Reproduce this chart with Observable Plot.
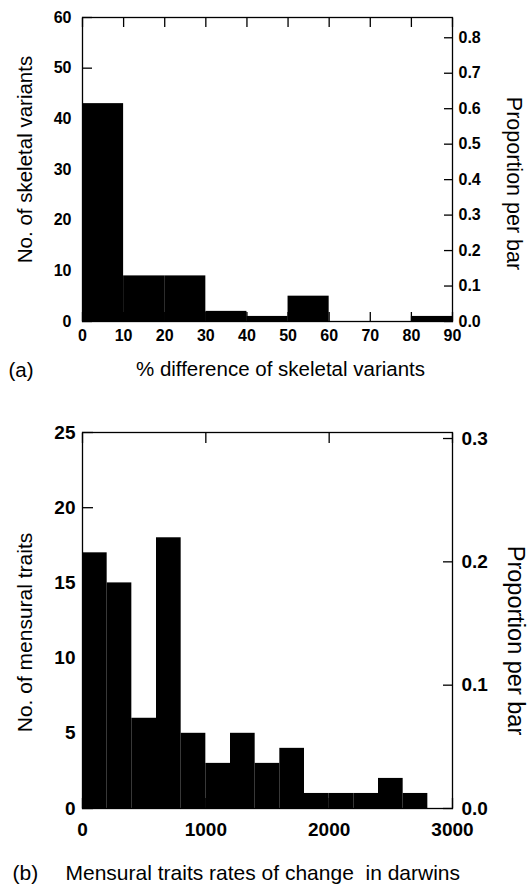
<!DOCTYPE html>
<html>
<head>
<meta charset="utf-8">
<script src="https://cdn.jsdelivr.net/npm/d3@7"></script>
<script src="https://cdn.jsdelivr.net/npm/@observablehq/plot@0.6"></script>
<style>
html, body { margin: 0; padding: 0; background: #fff; }
#wrap { position: relative; width: 529px; height: 886px; overflow: hidden; background: #fff; }
#wrap svg { position: absolute; left: 0; }
#wrap g[aria-label$="tick label"] text { font-weight: bold; }
</style>
</head>
<body>
<div id="wrap"></div>
<script>
// ---------- Panel (a) data ----------
const binStartA = [0, 10, 20, 30, 40, 50, 60, 70, 80];
const binWidthA = 10;
const countsA = [43, 9, 9, 2, 1, 5, 0, 0, 1];
const xTicksA = [0, 10, 20, 30, 40, 50, 60, 70, 80, 90];
const yTicksA = [0, 10, 20, 30, 40, 50, 60];
const propTicksA = [0, 0.1, 0.2, 0.3, 0.4, 0.5, 0.6, 0.7, 0.8];
const xLabelA = "% difference of skeletal variants";
const yLabelA = "No. of skeletal variants";
const y2LabelA = "Proportion per bar";
const tagA = "(a)";

// ---------- Panel (b) data ----------
const binStartB = [0, 200, 400, 600, 800, 1000, 1200, 1400, 1600, 1800, 2000, 2200, 2400, 2600];
const binWidthB = 200;
const countsB = [17, 15, 6, 18, 5, 3, 5, 3, 4, 1, 1, 1, 2, 1];
const xTicksB = [0, 1000, 2000, 3000];
const yTicksB = [0, 5, 10, 15, 20, 25];
const propTicksB = [0, 0.1, 0.2, 0.3];
const xLabelB = "Mensural traits rates of change \u00a0in darwins";
const yLabelB = "No. of mensural traits";
const y2LabelB = "Proportion per bar";
const tagB = "(b)";

const FONT = '"Liberation Sans", Arial, Helvetica, sans-serif';
const W = 529;
const FRAME_L = 82, FRAME_R = 452;

function panel(cfg) {
  const total = d3.sum(cfg.counts);
  const data = cfg.binStart.map((x0, i) => ({x1: x0, x2: x0 + cfg.binWidth, n: cfg.counts[i]}));
  const propCounts = cfg.propTicks.map(p => p * total);
  const L = cfg.tickLen;
  const blank = () => "";
  return Plot.plot({
    width: W,
    height: cfg.height,
    marginTop: cfg.marginTop,
    marginBottom: cfg.marginBottom,
    marginLeft: FRAME_L,
    marginRight: W - FRAME_R,
    style: {fontFamily: FONT, background: "white", color: "black", overflow: "visible"},
    x: {domain: cfg.xDomain},
    y: {domain: cfg.yDomain},
    marks: [
      Plot.rectY(data, {x1: "x1", x2: "x2", y: "n", fill: "black"}),
      Plot.frame({stroke: "black", strokeWidth: 1.3}),
      // inward ticks (outward ticks shifted inside the frame)
      Plot.axisX({anchor: "bottom", ticks: cfg.xTicks, tickSize: L, dy: -L, tickFormat: blank, label: null, strokeWidth: 1.3}),
      Plot.axisX({anchor: "top", ticks: cfg.xTicks, tickSize: L, dy: L, tickFormat: blank, label: null, strokeWidth: 1.3}),
      Plot.axisY({anchor: "left", ticks: cfg.yTicks, tickSize: L + 1, dx: L + 1, tickFormat: blank, label: null, strokeWidth: 1.3}),
      Plot.axisY({anchor: "right", ticks: propCounts, tickSize: L, dx: -L, tickFormat: blank, label: null, strokeWidth: 1.3}),
      // tick labels
      Plot.axisX({anchor: "bottom", ticks: cfg.xTicks, tickSize: 0, tickPadding: cfg.padX, fontSize: cfg.tickFont,
                  tickFormat: d => String(d), label: null}),
      Plot.axisY({anchor: "left", ticks: cfg.yTicks, tickSize: 0, tickPadding: cfg.padL, fontSize: cfg.tickFont,
                  tickFormat: d => String(d), label: null}),
      Plot.axisY({anchor: "right", ticks: propCounts, tickSize: 0, tickPadding: cfg.padR, fontSize: cfg.tickFont,
                  tickFormat: d => (d / total).toFixed(1), label: null}),
      // titles
      Plot.text([cfg.xLabel], {frameAnchor: cfg.xLabelAnchor, textAnchor: cfg.xLabelTextAnchor, lineAnchor: "bottom",
                               dx: cfg.xLabelDx, dy: cfg.xLabelDy, fontSize: cfg.titleFont, fill: "black"}),
      Plot.text([cfg.tag], {frameAnchor: "bottom-left", textAnchor: "start", lineAnchor: "bottom",
                            dx: cfg.tagDx, dy: cfg.tagDy, fontSize: cfg.titleFont, fill: "black"}),
      Plot.text([cfg.yLabel], {frameAnchor: "left", rotate: -90, textAnchor: "middle", lineAnchor: "middle",
                               dx: cfg.yLabelDx, dy: cfg.yLabelDy, fontSize: cfg.yTitleFont, fill: "black"}),
      Plot.text([cfg.y2Label], {frameAnchor: "right", rotate: 90, textAnchor: "middle", lineAnchor: "middle",
                                dx: cfg.y2LabelDx, dy: cfg.y2LabelDy, fontSize: cfg.y2TitleFont, fill: "black"})
    ]
  });
}

const wrap = document.getElementById("wrap");

const svgA = panel({
  binStart: binStartA, binWidth: binWidthA, counts: countsA,
  xTicks: xTicksA, yTicks: yTicksA, propTicks: propTicksA,
  xDomain: [0, 90], yDomain: [0, 60],
  height: 392, marginTop: 17, marginBottom: 392 - 321,
  tickLen: 9, tickFont: 16, padX: 8, padL: 11, padR: 6,
  xLabel: xLabelA, xLabelAnchor: "bottom", xLabelTextAnchor: "middle", xLabelDx: 13, xLabelDy: 54,
  tag: tagA, tagDx: 8 - FRAME_L, tagDy: 55,
  titleFont: 20.5,
  yLabel: yLabelA, yLabelDx: 25 - FRAME_L, yLabelDy: -10, yTitleFont: 20.5,
  y2Label: y2LabelA, y2LabelDx: 513 - FRAME_R, y2LabelDy: 14, y2TitleFont: 21.5
});
svgA.style.top = "0px";
wrap.appendChild(svgA);

const svgB = panel({
  binStart: binStartB, binWidth: binWidthB, counts: countsB,
  xTicks: xTicksB, yTicks: yTicksB, propTicks: propTicksB,
  xDomain: [0, 3000], yDomain: [0, 25],
  height: 486, marginTop: 32, marginBottom: 78,
  tickLen: 10, tickFont: 19, padX: 14, padL: 7, padR: 9,
  xLabel: xLabelB, xLabelAnchor: "bottom-left", xLabelTextAnchor: "start", xLabelDx: 65 - FRAME_L, xLabelDy: 71,
  tag: tagB, tagDx: 12 - FRAME_L, tagDy: 71,
  titleFont: 21,
  yLabel: yLabelB, yLabelDx: 25 - FRAME_L, yLabelDy: 12, yTitleFont: 21,
  y2Label: y2LabelB, y2LabelDx: 515 - FRAME_R, y2LabelDy: 20, y2TitleFont: 23.5
});
svgB.style.top = "400px";
wrap.appendChild(svgB);
</script>
</body>
</html>
